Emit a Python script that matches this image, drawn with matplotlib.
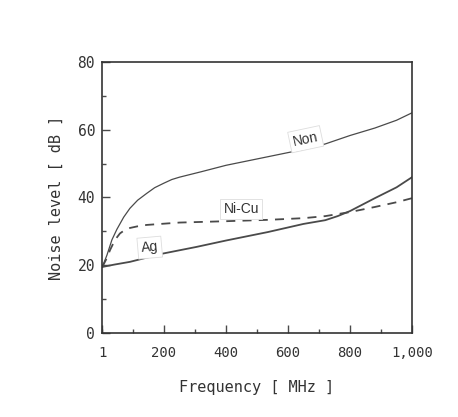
import matplotlib
matplotlib.use("Agg")
import matplotlib.pyplot as plt
from matplotlib.ticker import MultipleLocator

# values (frequency in MHz, noise in dB)
non_f = [1, 16, 32, 48, 70, 90, 115, 144, 170, 199, 225, 250, 320, 400, 480, 560, 640, 720, 800, 880, 950, 1000]
non_db = [19.5, 23, 27.5, 30.6, 34.2, 36.8, 39.2, 41.2, 42.9, 44.2, 45.3, 46, 47.6, 49.5, 51, 52.5, 54, 55.8, 58.3, 60.5, 62.8, 65]

nicu_f = [1, 15, 26, 42, 58, 75, 90, 115, 144, 250, 400, 535, 650, 720, 800, 880, 950, 1000]
nicu_db = [19.5, 22, 24.5, 27.5, 29.4, 30.5, 31, 31.5, 31.9, 32.6, 33, 33.4, 33.9, 34.5, 35.7, 37.2, 38.6, 39.8]

ag_f = [1, 40, 90, 199, 304, 400, 535, 650, 720, 760, 800, 880, 950, 1000]
ag_db = [19.5, 20.2, 21, 23.5, 25.4, 27.3, 29.8, 32.2, 33.3, 34.5, 36.0, 39.8, 43.0, 46]

x_ticks = [1, 200, 400, 600, 800, 1000]
x_labels = ["1", "200", "400", "600", "800", "1,000"]
y_ticks = [0, 20, 40, 60, 80]

ink = "#4a4a4a"
mono = "DejaVu Sans Mono"
sans = "Liberation Sans"

fig = plt.figure(figsize=(4.58, 4.17), dpi=100)
ax = fig.add_axes([0.2227, 0.2014, 0.677, 0.65])

ax.plot(non_f, non_db, color=ink, lw=0.9)
ax.plot(nicu_f, nicu_db, color=ink, lw=1.3, ls=(0, (5, 4)))
ax.plot(ag_f, ag_db, color=ink, lw=1.3)

box = dict(boxstyle="square,pad=0.25", fc="white", ec="#dddddd", lw=0.6)
ax.text(657, 57.2, "Non", ha="center", va="center", rotation=12, fontfamily=sans,
        fontsize=10, color="#333333", bbox=box)
ax.text(449, 36.6, "Ni-Cu", ha="center", va="center", fontfamily=sans,
        fontsize=10, color="#333333", bbox=box)
ax.text(154, 25.2, "Ag", ha="center", va="center", rotation=5, fontfamily=sans,
        fontsize=10, color="#333333", bbox=box)

ax.set_xlim(0, 1000)
ax.set_ylim(0, 80)
ax.set_xticks(x_ticks)
ax.set_xticklabels(x_labels, fontfamily=mono, fontsize=10, color="#333333")
ax.set_yticks(y_ticks)
ax.set_yticklabels([str(v) for v in y_ticks], fontfamily=mono, fontsize=10.5, color="#333333")
ax.xaxis.set_minor_locator(MultipleLocator(100))
ax.yaxis.set_minor_locator(MultipleLocator(10))
ax.tick_params(which="major", direction="in", length=6, width=1, color=ink)
ax.tick_params(axis="x", which="major", pad=9)
ax.tick_params(axis="y", which="major", pad=5)
ax.tick_params(which="minor", direction="in", length=3, width=1, color=ink)

for s in ax.spines.values():
    s.set_color("#333333")
    s.set_linewidth(1.2)

ax.set_xlabel("Frequency [ MHz ]", fontfamily=mono, fontsize=11, color="#333333", labelpad=15)
ax.set_ylabel("Noise level [ dB ]", fontfamily=mono, fontsize=11, color="#333333", labelpad=10)

fig.savefig("out.png", dpi=100)
